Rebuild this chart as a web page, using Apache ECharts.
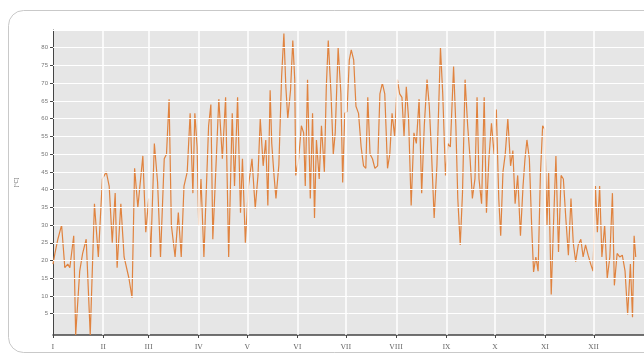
<!DOCTYPE html>
<html><head><meta charset="utf-8">
<script src="https://cdn.jsdelivr.net/npm/echarts@6/dist/echarts.min.js"></script>
<style>html,body{margin:0;padding:0;background:#fff}#c{width:644px;height:359px}</style>
</head><body><div id="c"></div>
<script>
const monthStarts = [0,31,59,90,120,151,181,212,243,273,304,334];
const monthLabels = ['I','II','III','IV','V','VI','VII','VIII','IX','X','XI','XII'];
const yTicks = [5,10,15,20,25,30,35,40,45,50,55,60,65,70,75,80];
const yGrid = [5,10,15,20,25,30,35,40,45,50,55,60,65,70,75,80,85];

const days = [0,1.2,3,5.3,7.3,9.1,10.4,12.8,14,16.5,18.3,20.5,23,25.6,28,30.5,32.9,34.7,36.6,38.4,39.6,41.9,43.9,
45.1,46.9,48.8,50.4,52.4,55.5,57.3,59.1,60.3,62.6,64.6,66.4,68.7,70.1,71.7,73.1,75.4,77.4,79.2,80.9,82.9,84.7,86.4,87.6,89,
90,91.4,93.2,96.1,97.5,98.7,100.5,102.4,104.6,106.6,108.5,110.7,112.1,114,115.8,117,118.8,120.7,122.9,124.9,126.6,128,129.8,131.4,132.7,134.1,
135.1,136.5,137.7,139.5,141.2,142.6,143.8,145,146.7,148.1,149.3,149.9,151.7,153.4,154.8,155.8,157.2,158.9,160.3,161.5,162.7,164.4,165.8,167.6,168.8,170,171.7,173.1,174.3,176.1,177.8,178.9,
180.2,181.6,183,184.2,185.7,187.1,188.7,190.3,191.8,193.2,194.4,195.8,197.3,198.8,200.5,201.9,203.4,204.9,206.6,208,209.4,211,212.7,214.1,215.5,216.8,218.2,219.6,221.2,222.9,224.4,226.1,227.7,229.3,231,232.4,233.8,235.4,237.1,239.3,
240.7,242.4,243.9,245.4,247.4,248.8,250,251.5,252.9,254.5,256.1,257.6,259,260.6,261.9,263.1,264.7,266.3,267.7,269.2,270.8,272.4,273.8,275.3,276.5,277.9,279.3,280.9,282.6,284,285.4,287,288.7,290.3,291.5,292.7,294.2,295.6,296.8,298.2,
299.6,301,302.4,303.7,305.1,306.1,307.7,309.1,310.6,312.2,313.8,315.2,316.7,318.3,319.9,321.3,322.8,324.4,326,327.4,328.9,330.5,332.1,333.5,335,336.2,337.6,339,340.7,342.3,343.9,345.5,346.7,348.4,350,351.6,353.3,354.9,356.6,357.9,358.9,359.9];

const temps = [19,22,26,30,18,19,18,27,-1,17,22,26,-1,36,21,43,45,41,25,39,18,36,21,
21,15,9.5,46,35,49.5,28,37.5,21,53,42,21,48.7,50,65.5,30,21,33.5,21,41,45,61.5,39,61.5,52,
30,43,21,58,64,26,45,65.5,48.7,66,21,61.5,41,66,33.5,48.7,25,41,48.7,34.7,44,60,46.7,54,35.5,68,
53,44,37.5,47,72,84,69,60,68,82,71,44,48.7,58,56,41,71,37.5,61.5,32,54,43,58,45,69,82,67,50,56,80,67,42,
61.5,62,76.6,79.4,76.6,63.5,61.5,52,46.7,46,66,50,48.7,46,46.7,67,70,67,46,50,61.5,55,71,67,66,55,69,60,35.5,56,53,65.5,39,58,71,63.5,50,32,46.7,80,
67,44,53,52,74.7,58,37.5,24.4,39,71,58,48.7,37.5,43,66,43,36,66,33.5,48.7,58.7,50,62.6,37.5,27,45,50,60,46.7,51,36,44,27,41,48.7,54,48.7,30,16.8,21,
17,44,58,57,30,45,10.4,30,49.5,22.4,44,43,32,21.5,37.5,25,19.7,24.4,26,21,24.4,21.5,19,17,41,28,41,21,30,15,21,39,13,22,21,21.5,17,4.8,19,4,27,21];

const seriesData = days.map((d, i) => [d, temps[i]]);

const chart = echarts.init(document.getElementById('c'), null, {renderer: 'canvas'});
chart.setOption({
  animation: false,
  backgroundColor: '#fff',
  graphic: [{
    type: 'rect', z: -10, silent: true,
    shape: {x: 8.5, y: 10.5, width: 700, height: 342, r: 15},
    style: {fill: '#fff', stroke: '#c9c9c9', lineWidth: 1}
  }],
  grid: {left: 53, top: 30, width: 599, height: 305, show: true, backgroundColor: '#e6e6e6', borderWidth: 0},
  xAxis: {
    type: 'value', min: 0, max: 365,
    axisLine: {show: true, onZero: false, lineStyle: {color: '#444', width: 1.5}},
    axisTick: {show: true, length: 3, customValues: monthStarts, lineStyle: {color: '#444'}},
    axisLabel: {customValues: monthStarts, fontSize: 7, color: '#666', fontFamily: 'DejaVu Serif', margin: 9,
      formatter: v => monthLabels[monthStarts.indexOf(v)] || ''},
    splitLine: {show: false}
  },
  yAxis: {
    type: 'value', min: -1, max: 85,
    name: '[°C]', nameLocation: 'middle', nameGap: 34, nameRotate: 90,
    nameTextStyle: {fontSize: 6, color: '#777'},
    axisLine: {show: true, lineStyle: {color: '#444', width: 1}},
    axisTick: {show: true, length: 3, customValues: yTicks, lineStyle: {color: '#444'}},
    axisLabel: {customValues: yTicks, fontSize: 6, color: '#777', margin: 5},
    splitLine: {show: false}
  },
  series: [{
    type: 'line', data: [], z: 1, silent: true,
    markLine: {
      silent: true, symbol: 'none', animation: false,
      label: {show: false},
      lineStyle: {color: '#fff', width: 1, type: 'solid'},
      data: yGrid.map(v => ({yAxis: v})).concat(monthStarts.slice(1).map(v => ({xAxis: v, lineStyle: {width: 1.5}})))
    }
  }, {
    type: 'line', data: seriesData, z: 3, showSymbol: false, symbol: 'none',
    lineStyle: {color: '#e0833f', width: 1.2},
    itemStyle: {color: '#e0833f'}
  }]
});
</script></body></html>
